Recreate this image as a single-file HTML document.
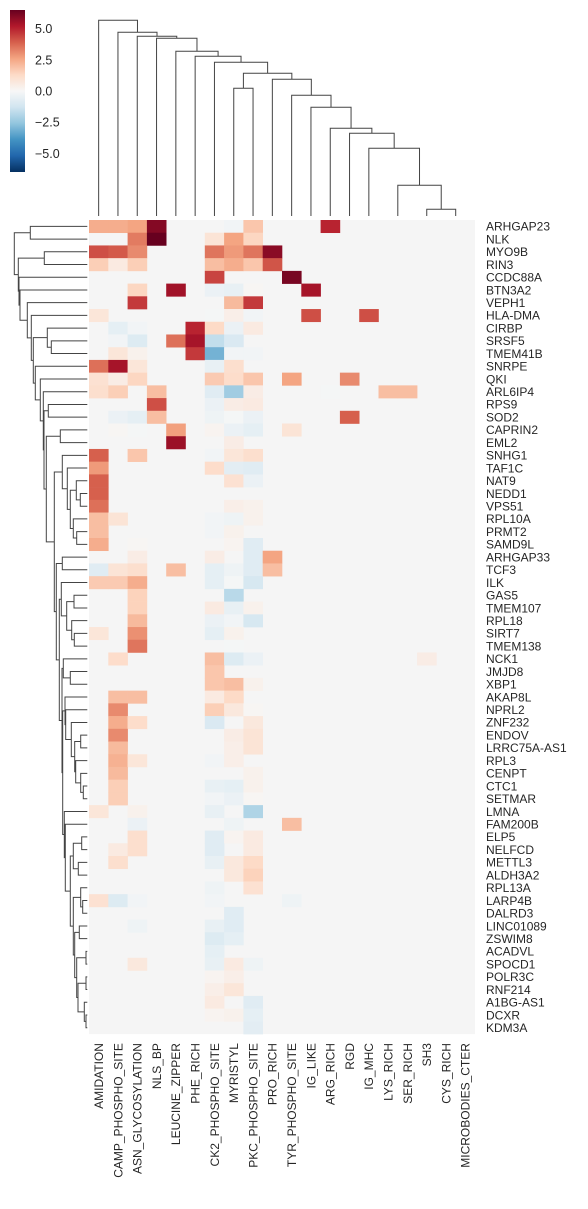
<!DOCTYPE html>
<html><head><meta charset="utf-8"><style>
html,body{margin:0;padding:0;background:#fff;}
svg{display:block;font-family:"Liberation Sans",Arial,sans-serif;}
</style></head><body>
<svg id="chart" width="588" height="1209" viewBox="0 0 588 1209" xmlns="http://www.w3.org/2000/svg">
<defs>
<linearGradient id="cbgrad" x1="0" y1="1" x2="0" y2="0">
<stop offset="0" stop-color="#053061"/><stop offset="0.1" stop-color="#2166ac"/><stop offset="0.2" stop-color="#4393c3"/><stop offset="0.3" stop-color="#92c5de"/><stop offset="0.4" stop-color="#d1e5f0"/><stop offset="0.5" stop-color="#f7f7f7"/><stop offset="0.6" stop-color="#fddbc7"/><stop offset="0.7" stop-color="#f4a582"/><stop offset="0.8" stop-color="#d6604d"/><stop offset="0.9" stop-color="#b2182b"/><stop offset="1" stop-color="#67001f"/>
</linearGradient>
</defs>
<g>
<rect x="10" y="10" width="15" height="162" fill="url(#cbgrad)"/>
</g>
<g id="cbticks"></g>
<g id="rowdend"></g>
<g id="coldend"></g>
<g id="heat"></g>
<g id="rowlabels"></g>
<g id="collabels"></g>
</svg>
<script>
const rowLabels = ["ARHGAP23","NLK","MYO9B","RIN3","CCDC88A","BTN3A2","VEPH1","HLA-DMA","CIRBP","SRSF5","TMEM41B","SNRPE","QKI","ARL6IP4","RPS9","SOD2","CAPRIN2","EML2","SNHG1","TAF1C","NAT9","NEDD1","VPS51","RPL10A","PRMT2","SAMD9L","ARHGAP33","TCF3","ILK","GAS5","TMEM107","RPL18","SIRT7","TMEM138","NCK1","JMJD8","XBP1","AKAP8L","NPRL2","ZNF232","ENDOV","LRRC75A-AS1","RPL3","CENPT","CTC1","SETMAR","LMNA","FAM200B","ELP5","NELFCD","METTL3","ALDH3A2","RPL13A","LARP4B","DALRD3","LINC01089","ZSWIM8","ACADVL","SPOCD1","POLR3C","RNF214","A1BG-AS1","DCXR","KDM3A"];
const colLabels = ["AMIDATION","CAMP_PHOSPHO_SITE","ASN_GLYCOSYLATION","NLS_BP","LEUCINE_ZIPPER","PHE_RICH","CK2_PHOSPHO_SITE","MYRISTYL","PKC_PHOSPHO_SITE","PRO_RICH","TYR_PHOSPHO_SITE","IG_LIKE","ARG_RICH","RGD","IG_MHC","LYS_RICH","SER_RICH","SH3","CYS_RICH","MICROBODIES_CTER"];
const colorbarTicks = [5.0, 2.5, 0.0, -2.5, -5.0];
const valueRange = [-6.5, 6.5];
// nonzero cells: [row, col, value]
const cellValues = [
[0,0,2.4],[0,1,2.4],[0,2,2.6],[0,3,6.0],[0,7,-0.2],[0,8,1.8],[0,12,5.0],
[1,2,3.4],[1,3,6.5],[1,6,0.9],[1,7,2.6],[1,8,1.4],
[2,0,4.2],[2,1,4.0],[2,2,3.1],[2,6,3.5],[2,7,2.8],[2,8,3.5],[2,9,5.9],
[3,0,1.6],[3,1,0.6],[3,2,1.6],[3,6,2.0],[3,7,2.4],[3,8,1.8],[3,9,4.1],
[4,6,4.4],[4,10,6.2],
[5,2,1.4],[5,4,5.5],[5,6,-0.4],[5,7,-0.5],[5,8,0.1],[5,11,5.4],
[6,2,4.6],[6,7,2.1],[6,8,4.6],
[7,0,0.8],[7,6,-0.1],[7,7,0.4],[7,8,-0.2],[7,11,4.2],[7,14,4.2],
[8,1,-0.6],[8,2,-0.2],[8,5,5.0],[8,6,1.3],[8,7,-0.4],[8,8,0.6],
[9,1,-0.2],[9,2,-0.9],[9,4,3.6],[9,5,5.4],[9,6,-1.6],[9,7,-1.0],
[10,1,0.8],[10,2,0.3],[10,5,4.6],[10,6,-3.1],[10,7,-0.2],[10,8,-0.2],
[11,0,3.6],[11,1,5.4],[11,2,0.8],[11,6,-0.5],[11,7,1.1],
[12,0,1.0],[12,1,0.5],[12,2,1.4],[12,6,1.7],[12,7,1.2],[12,8,1.8],[12,10,2.6],[12,13,3.1],
[13,0,1.1],[13,1,1.6],[13,3,2.0],[13,6,-0.8],[13,7,-2.3],[13,8,0.5],[13,12,-0.1],[13,15,2.0],[13,16,2.0],
[14,3,4.2],[14,6,-0.4],[14,7,0.5],[14,8,0.6],
[15,1,-0.4],[15,2,-0.6],[15,3,2.0],[15,6,-0.3],[15,7,-0.1],[15,8,-0.4],[15,13,3.9],
[16,1,0.1],[16,2,-0.1],[16,4,2.7],[16,6,0.2],[16,7,-0.4],[16,8,-0.6],[16,10,0.9],
[17,4,5.6],[17,7,0.5],
[18,0,3.9],[18,2,1.8],[18,6,-0.2],[18,7,0.8],[18,8,1.1],
[19,0,2.8],[19,6,1.2],[19,7,-0.7],[19,8,-0.8],
[20,0,3.9],[20,7,1.0],[20,8,-0.4],
[21,0,3.9],
[22,0,3.6],[22,7,0.4],[22,8,0.3],
[23,0,2.0],[23,1,0.9],[23,6,-0.2],[23,7,-0.3],[23,8,0.3],
[24,0,2.0],[24,6,-0.2],[24,7,0.3],
[25,0,2.4],[25,2,0.1],[25,7,0.2],[25,8,-0.8],
[26,2,0.5],[26,6,0.5],[26,8,-0.8],[26,9,2.6],
[27,0,-0.8],[27,1,0.9],[27,2,1.1],[27,4,2.0],[27,6,-0.6],[27,7,-0.3],[27,8,-0.8],[27,9,2.0],
[28,0,1.7],[28,1,1.7],[28,2,2.4],[28,6,-0.6],[28,7,-0.1],[28,8,-1.1],
[29,2,1.5],[29,7,-1.8],
[30,2,1.5],[30,6,0.6],[30,7,-0.5],[30,8,0.3],
[31,2,2.1],[31,6,-0.4],[31,7,-0.2],[31,8,-1.1],
[32,0,0.8],[32,2,3.0],[32,6,-0.6],[32,7,0.3],
[33,2,3.5],[33,7,-0.1],
[34,1,1.2],[34,6,2.0],[34,7,-0.9],[34,8,-0.4],[34,17,0.5],
[35,6,1.8],
[36,6,1.8],[36,7,2.0],[36,8,0.3],
[37,1,2.0],[37,2,2.0],[37,6,0.6],[37,7,1.3],
[38,1,3.1],[38,6,1.6],[38,7,0.7],[38,8,0.1],
[39,1,2.4],[39,2,1.2],[39,6,-1.0],[39,8,0.7],
[40,1,3.1],[40,7,0.5],[40,8,0.9],
[41,1,2.1],[41,7,0.4],[41,8,0.9],
[42,1,2.3],[42,2,0.8],[42,6,-0.2],[42,7,0.4],
[43,1,2.1],[43,8,0.3],
[44,1,1.6],[44,6,-0.5],[44,7,-0.6],[44,8,0.3],
[45,1,1.6],[45,6,-0.2],[45,7,-0.4],[45,8,0.1],
[46,0,0.8],[46,2,0.3],[46,6,-0.5],[46,8,-2.0],
[47,2,-0.4],[47,7,-0.3],[47,10,2.0],
[48,2,1.1],[48,6,-0.8],[48,7,0.2],[48,8,0.6],
[49,1,0.6],[49,2,1.1],[49,6,-0.8],[49,8,0.6],
[50,1,1.1],[50,6,-0.5],[50,7,0.7],[50,8,1.3],
[51,7,0.7],[51,8,1.5],
[52,6,-0.3],[52,8,1.0],
[53,0,1.0],[53,1,-0.9],[53,2,-0.2],[53,6,-0.2],[53,10,-0.3],
[54,7,-0.8],
[55,2,-0.3],[55,6,-0.5],[55,7,-0.8],
[56,6,-0.9],[56,7,-0.6],
[57,6,-0.6],
[58,2,0.7],[58,6,-0.5],[58,7,0.6],[58,8,-0.3],
[59,6,0.2],[59,7,0.4],
[60,6,0.4],[60,7,0.8],
[61,6,0.6],[61,8,-0.8],
[62,6,0.2],[62,7,0.3],[62,8,-0.6],
[63,8,-0.7]
];
// dendrogram linkage: [left, right, mergeHeight(px offset)]
const rowTree = [[0,1,30.3],[[2,3,44.3],[4,[5,[6,[7,[[8,[9,10,51.3],47.3],[11,[12,[13,[[14,15,48.3],[[16,17,60.3],[[18,[19,[[20,[21,22,80.3],76.3],[23,[24,25,76.7],73.3],70.3],67.3],62.3],[[26,27,62.3],[[28,[[29,30,74],[31,[32,33,74.3],71.7],66.7],61.3],[[34,[35,36,70.3],63.3],[[37,[38,[39,[[40,41,80.7],[42,[43,[44,45,83.3],80.7],75.7],74.7],71.3],65.7],65],[46,[47,[[[48,49,81.7],[50,51,78.3],73.3],[[52,[53,54,82.7],80.7],[[55,56,79.3],[[57,58,86],[[59,60,86],[61,[62,63,86],84.3],78],76.7],74.7],73.3],70.3],65.3],64.3],62.7],62],59.3],56.3],54.3],46.3],44],43.3],40.3],35.3],33.3],31.3],27.3],20],19],18.3],14.3];
const colTree = [0,[1,[2,[3,[4,[5,[6,[[7,8,88.3],[9,[10,[11,[12,[13,[14,[[15,16,216],[17,[18,19,216],209.3],185.3],148.3],133.3],128.3],107.3],95.3],79.3],73.3],62.3],56.3],51.3],38.3],36.3],32.3],20.3];

const NS="http://www.w3.org/2000/svg";
const X0=89, CW=19.3, Y0=220, RH=12.72;
const xCol = i => X0 + CW*i;
const yRow = i => Y0 + RH*i;
const stops=["#053061","#2166ac","#4393c3","#92c5de","#d1e5f0","#f7f7f7","#fddbc7","#f4a582","#d6604d","#b2182b","#67001f"];
function hex(h){return [1,3,5].map(i=>parseInt(h.substr(i,2),16));}
function cmap(v){
  let t=(v-valueRange[0])/(valueRange[1]-valueRange[0]);
  t=Math.max(0,Math.min(1,t))*10;
  const i=Math.min(9,Math.floor(t)), f=t-i;
  const a=hex(stops[i]), b=hex(stops[i+1]);
  return "rgb("+a.map((c,k)=>Math.round(c+(b[k]-c)*f)).join(",")+")";
}
function mk(tag,attrs,parent){const e=document.createElementNS(NS,tag);for(const k in attrs)e.setAttribute(k,attrs[k]);parent.appendChild(e);return e;}

const cb=document.getElementById("cbticks");
const cbY = v => 10 + 162*(valueRange[1]-v)/(valueRange[1]-valueRange[0]);
colorbarTicks.forEach(v=>{
  const t=mk("text",{x:35,y:cbY(v)+4.5,"font-size":"12.5",fill:"#262626"},cb);
  
  
  t.textContent=(v<0?"\u2212":"")+Math.abs(v).toFixed(1);
});

const heat=document.getElementById("heat");
const bg=mk("rect",{x:X0,y:Y0,width:CW*colLabels.length,height:RH*rowLabels.length,fill:"#f5f5f5"},heat);


cellValues.forEach(c=>{
  const r=mk("rect",{x:xCol(c[1]),y:yRow(c[0]),width:CW+0.3,height:RH+0.3,fill:cmap(c[2])},heat);
  
  
});

const rl=document.getElementById("rowlabels");
const xEnd=xCol(colLabels.length);
rowLabels.forEach((lab,i)=>{
  const cy=yRow(i)+RH/2;
  const t=mk("text",{x:xEnd+11,y:cy+4.3,"font-size":"12",fill:"#262626"},rl);
  
  
  t.textContent=lab;
});
const cl=document.getElementById("collabels");
const yEnd=yRow(rowLabels.length);
colLabels.forEach((lab,i)=>{
  const cx=xCol(i)+CW/2;
  const t=mk("text",{x:0,y:0,"font-size":"12",fill:"#262626","text-anchor":"end",transform:"translate("+(cx+4.3)+","+(yEnd+9)+") rotate(-90)"},cl);
  
  
  t.textContent=lab;
});

const rd=document.getElementById("rowdend");
let rpath="";
const rowLeafX=87.3;
function drawRow(n){
  if(typeof n==="number") return {p:rowLeafX, c:yRow(n)+RH/2};
  const L=drawRow(n[0]), R=drawRow(n[1]), h=n[2];
  rpath+="M"+L.p+" "+L.c+"H"+h+"V"+R.c+"H"+R.p;
  return {p:h, c:(L.c+R.c)/2};
}
drawRow(rowTree);
const rp=mk("path",{d:rpath,fill:"none",stroke:"#444","stroke-width":1},rd);



const cd=document.getElementById("coldend");
let cpath="";
const colLeafY=216;
function drawCol(n){
  if(typeof n==="number") return {p:colLeafY, c:xCol(n)+CW/2};
  const L=drawCol(n[0]), R=drawCol(n[1]), h=n[2];
  if(h<colLeafY) cpath+="M"+L.c+" "+L.p+"V"+h+"H"+R.c+"V"+R.p;
  return {p:Math.min(h,colLeafY), c:(L.c+R.c)/2};
}
drawCol(colTree);
const cp=mk("path",{d:cpath,fill:"none",stroke:"#444","stroke-width":1},cd);


</script>
</body></html>
